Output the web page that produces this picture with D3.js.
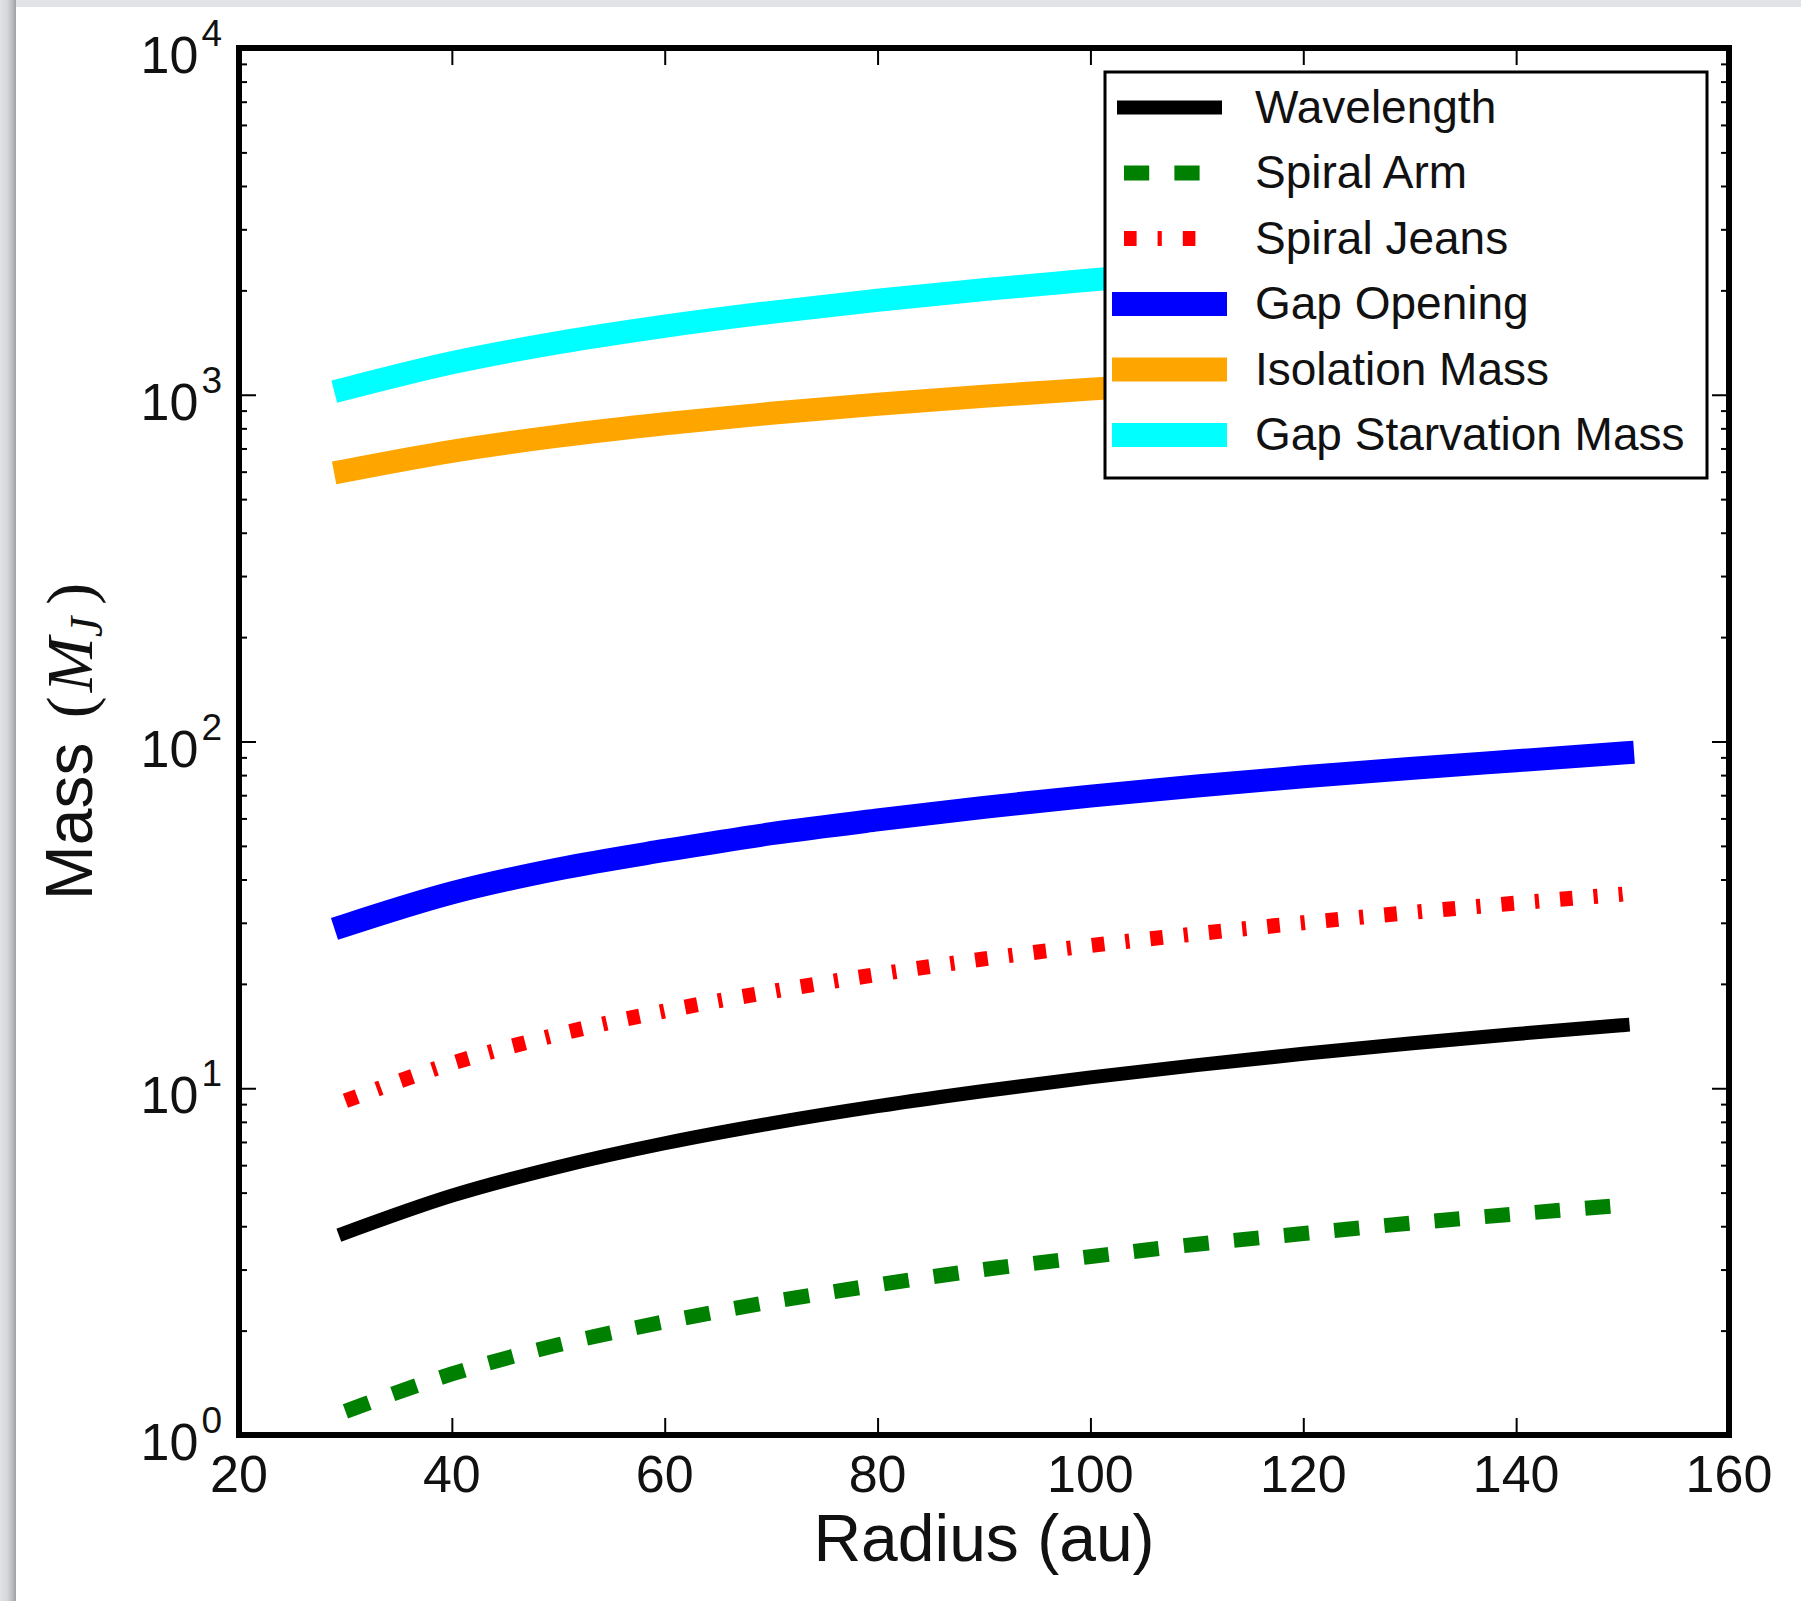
<!DOCTYPE html>
<html>
<head>
<meta charset="utf-8">
<script src="https://cdn.jsdelivr.net/npm/d3@7"></script>
<style>
  html, body { margin: 0; padding: 0; background: #ffffff; }
  svg { display: block; }
</style>
</head>
<body>
<svg id="chart" width="1801" height="1601"></svg>
<script>
// ---------------- data ----------------
const radius      = [30, 40, 50, 60, 70, 80, 90, 100, 110, 120, 130, 140, 150];
const wavelength  = [3.83, 4.90, 5.93, 6.94, 7.92, 8.88, 9.82, 10.75, 11.66, 12.57, 13.46, 14.34, 15.2];
const spiralArm   = [1.17, 1.50, 1.82, 2.12, 2.42, 2.71, 3.00, 3.27, 3.55, 3.81, 4.08, 4.34, 4.60];
const spiralJeans = [9.2, 11.8, 14.3, 16.7, 19.0, 21.3, 23.6, 25.8, 27.9, 30.0, 32.1, 34.2, 36.3];
const gapOpening  = [29.5, 36.6, 42.9, 48.5, 54.2, 59.4, 64.6, 69.6, 74.4, 79.1, 83.6, 88.0, 92.6];
const isolationMass = [604, 687, 760, 825, 884, 939, 990, 1038, 1084, 1127, 1168, 1208, 1246];
const gapStarvation = [1040, 1236, 1413, 1576, 1729, 1873, 2010, 2142, 2268, 2389, 2507, 2621, 2732];

const seriesNames = ["Wavelength", "Spiral Arm", "Spiral Jeans", "Gap Opening", "Isolation Mass", "Gap Starvation Mass"];
const xTicks = [20, 40, 60, 80, 100, 120, 140, 160];
const yTickExponents = [0, 1, 2, 3, 4];

// ---------------- styles ----------------
const styles = [
  { values: wavelength,    color: "#000000", width: 14, dash: null,               cap: "square" },
  { values: spiralArm,     color: "#008000", width: 15, dash: "25.2,25.2",        cap: "butt" },
  { values: spiralJeans,   color: "#ff0000", width: 15, dash: "12.6,21,4.2,21",   cap: "butt" },
  { values: gapOpening,    color: "#0000ff", width: 23, dash: null,               cap: "square" },
  { values: isolationMass, color: "#ffa500", width: 23, dash: null,               cap: "square" },
  { values: gapStarvation, color: "#00ffff", width: 23, dash: null,               cap: "square" }
];

const svg = d3.select("#chart");
const W = 1801, H = 1601;
const plot = { left: 239, right: 1729, top: 48, bottom: 1435 };

// page shadow / border like the reference screenshot
const defs = svg.append("defs");
const g1 = defs.append("linearGradient").attr("id", "leftShade").attr("x1", "0").attr("x2", "1").attr("y1", "0").attr("y2", "0");
g1.append("stop").attr("offset", "0").attr("stop-color", "#e1e2e5");
g1.append("stop").attr("offset", "0.45").attr("stop-color", "#d6d7db");
g1.append("stop").attr("offset", "0.85").attr("stop-color", "#b3b4b8");
g1.append("stop").attr("offset", "1").attr("stop-color", "#9d9ea2");
svg.append("rect").attr("x", 0).attr("y", 0).attr("width", W).attr("height", H).attr("fill", "#ffffff");
svg.append("rect").attr("x", 0).attr("y", 0).attr("width", W).attr("height", 7).attr("fill", "#e2e3e6");
svg.append("rect").attr("x", 0).attr("y", 0).attr("width", 16).attr("height", H).attr("fill", "url(#leftShade)");

// ---------------- scales ----------------
const x = d3.scaleLinear().domain([20, 160]).range([plot.left, plot.right]);
const y = d3.scaleLog().domain([1, 1e4]).range([plot.bottom, plot.top]);

const majorY = yTickExponents.map(e => Math.pow(10, e));
const minorY = [];
for (let e = 0; e < 4; e++) for (let m = 2; m <= 9; m++) minorY.push(m * Math.pow(10, e));

// ---------------- curves ----------------
const clipId = "plotClip";
defs.append("clipPath").attr("id", clipId).append("rect")
  .attr("x", plot.left).attr("y", plot.top)
  .attr("width", plot.right - plot.left).attr("height", plot.bottom - plot.top);

const line = d3.line().x(d => x(d[0])).y(d => y(d[1])).curve(d3.curveMonotoneX);
const curves = svg.append("g").attr("clip-path", `url(#${clipId})`);
// draw order as in the reference: thin first, then thick ones
styles.forEach(s => {
  const pts = radius.map((r, i) => [r, s.values[i]]);
  curves.append("path")
    .attr("d", line(pts))
    .attr("fill", "none")
    .attr("stroke", s.color)
    .attr("stroke-width", s.width)
    .attr("stroke-linecap", s.cap)
    .attr("stroke-linejoin", "round")
    .attr("stroke-dasharray", s.dash);
});

// ---------------- axes ----------------
function styleAxis(g) {
  g.select(".domain").remove();
  g.selectAll(".tick line").attr("stroke", "#000").attr("stroke-width", 2);
  g.selectAll(".tick text").remove();
}
svg.append("g").attr("transform", `translate(0,${plot.bottom})`)
  .call(d3.axisBottom(x).tickValues(xTicks).tickSize(-17)).call(styleAxis);
svg.append("g").attr("transform", `translate(0,${plot.top})`)
  .call(d3.axisTop(x).tickValues(xTicks).tickSize(-17)).call(styleAxis);
svg.append("g").attr("transform", `translate(${plot.left},0)`)
  .call(d3.axisLeft(y).tickValues(majorY).tickSize(-17)).call(styleAxis);
svg.append("g").attr("transform", `translate(${plot.left},0)`)
  .call(d3.axisLeft(y).tickValues(minorY).tickSize(-8)).call(styleAxis);
svg.append("g").attr("transform", `translate(${plot.right},0)`)
  .call(d3.axisRight(y).tickValues(majorY).tickSize(-17)).call(styleAxis);
svg.append("g").attr("transform", `translate(${plot.right},0)`)
  .call(d3.axisRight(y).tickValues(minorY).tickSize(-8)).call(styleAxis);

// frame
svg.append("rect")
  .attr("x", plot.left).attr("y", plot.top)
  .attr("width", plot.right - plot.left).attr("height", plot.bottom - plot.top)
  .attr("fill", "none").attr("stroke", "#000").attr("stroke-width", 6);

// x tick labels
const font = "'Liberation Sans', Arial, Helvetica, sans-serif";
svg.append("g").selectAll("text").data(xTicks).join("text")
  .attr("x", d => x(d)).attr("y", plot.bottom + 57)
  .attr("text-anchor", "middle")
  .attr("font-family", font).attr("font-size", 52).attr("fill", "#111")
  .text(d => d);

// y tick labels 10^n
const yl = svg.append("g").selectAll("text").data(yTickExponents).join("text")
  .attr("x", plot.left - 17).attr("y", d => y(Math.pow(10, d)) + 25)
  .attr("text-anchor", "end")
  .attr("font-family", font).attr("font-size", 52).attr("fill", "#111");
yl.append("tspan").text("10");
yl.append("tspan").attr("font-size", 37).attr("dy", -27).attr("dx", 3).text(d => d);

// axis titles
svg.append("text")
  .attr("x", (plot.left + plot.right) / 2).attr("y", 1561)
  .attr("text-anchor", "middle")
  .attr("font-family", font).attr("font-size", 66).attr("fill", "#111")
  .text("Radius (au)");

const yt = svg.append("text")
  .attr("transform", `translate(92,${(plot.top + plot.bottom) / 2}) rotate(-90)`)
  .attr("text-anchor", "middle")
  .attr("font-family", font).attr("font-size", 66).attr("fill", "#111");
yt.append("tspan").text("Mass ");
yt.append("tspan").attr("font-family", "'Liberation Serif', 'DejaVu Serif', serif").attr("dx", 6).text("(");
yt.append("tspan").attr("font-family", "'Liberation Serif', 'DejaVu Serif', serif").attr("font-style", "italic").attr("dx", 4).text("M");
yt.append("tspan").attr("font-family", "'Liberation Serif', 'DejaVu Serif', serif").attr("font-style", "italic").attr("font-size", 46).attr("dy", 10).text("J");
yt.append("tspan").attr("font-family", "'Liberation Serif', 'DejaVu Serif', serif").attr("dy", -10).attr("dx", 12).text(")");

// ---------------- legend ----------------
const leg = { left: 1105, top: 72, right: 1707, bottom: 478, firstY: 107.5, step: 65.5 };
svg.append("rect")
  .attr("x", leg.left).attr("y", leg.top)
  .attr("width", leg.right - leg.left).attr("height", leg.bottom - leg.top)
  .attr("fill", "#ffffff").attr("stroke", "#000").attr("stroke-width", 3);

const items = svg.append("g").selectAll("g").data(styles).join("g")
  .attr("transform", (d, i) => `translate(0,${leg.firstY + i * leg.step})`);
items.append("line")
  .attr("x1", 1124).attr("x2", 1215).attr("y1", 0).attr("y2", 0)
  .attr("stroke", d => d.color)
  .attr("stroke-width", (d, i) => i >= 3 ? 24 : d.width)
  .attr("stroke-linecap", d => d.cap)
  .attr("stroke-dasharray", d => d.dash);
items.append("text")
  .attr("x", 1255).attr("y", 15)
  .attr("font-family", font).attr("font-size", 46).attr("fill", "#111")
  .text((d, i) => seriesNames[i]);
</script>
</body>
</html>
